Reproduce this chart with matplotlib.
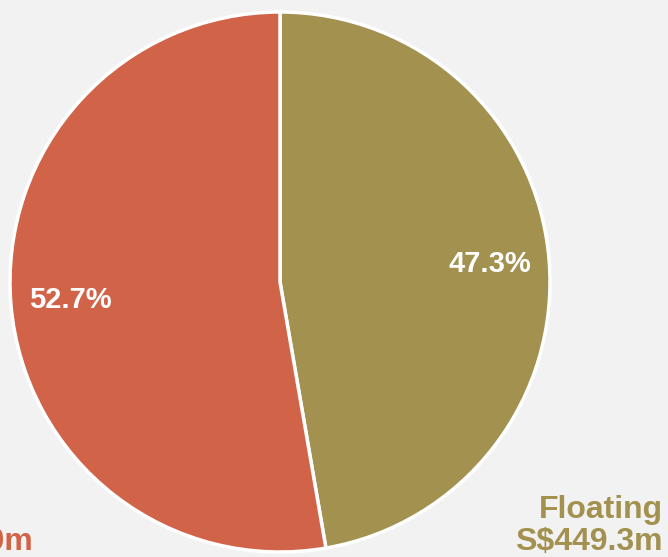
import matplotlib
matplotlib.use("Agg")
import matplotlib.pyplot as plt

# debt mix, S$m
categories = ["Floating", "Fixed"]
amounts = [449.3, 501.0]
colors = ["#A39150", "#D16349"]

plt.rcParams["font.family"] = ["Liberation Sans", "DejaVu Sans"]

fig = plt.figure(figsize=(6.68, 5.57), dpi=100, facecolor="#F2F2F2")
ax = fig.add_axes([0, 0, 1, 1])
ax.set_facecolor("#F2F2F2")

wedges, texts, autotexts = ax.pie(
    amounts, colors=colors, startangle=90, counterclock=False,
    center=(280, 275), radius=270, frame=True,
    autopct="%.1f%%", pctdistance=0.78,
    wedgeprops=dict(edgecolor="white", linewidth=2.5),
    textprops=dict(color="white", fontsize=21, fontweight="bold"),
)
ax.set_xlim(0, 668)
ax.set_ylim(0, 557)
ax.set_aspect("equal")
ax.axis("off")

# outer labels below the pie; the left one runs off the canvas as in the source
for name, amt, col, x, malign in zip(categories, amounts, colors, (663, 33), ("right", "left")):
    ax.text(x, 0, f"{name}\nS${amt:.1f}m", ha="right", va="bottom",
            multialignment=malign, color=col, fontsize=23,
            fontweight="bold", linespacing=1.1)

fig.savefig("out.png", dpi=100, facecolor=fig.get_facecolor())
